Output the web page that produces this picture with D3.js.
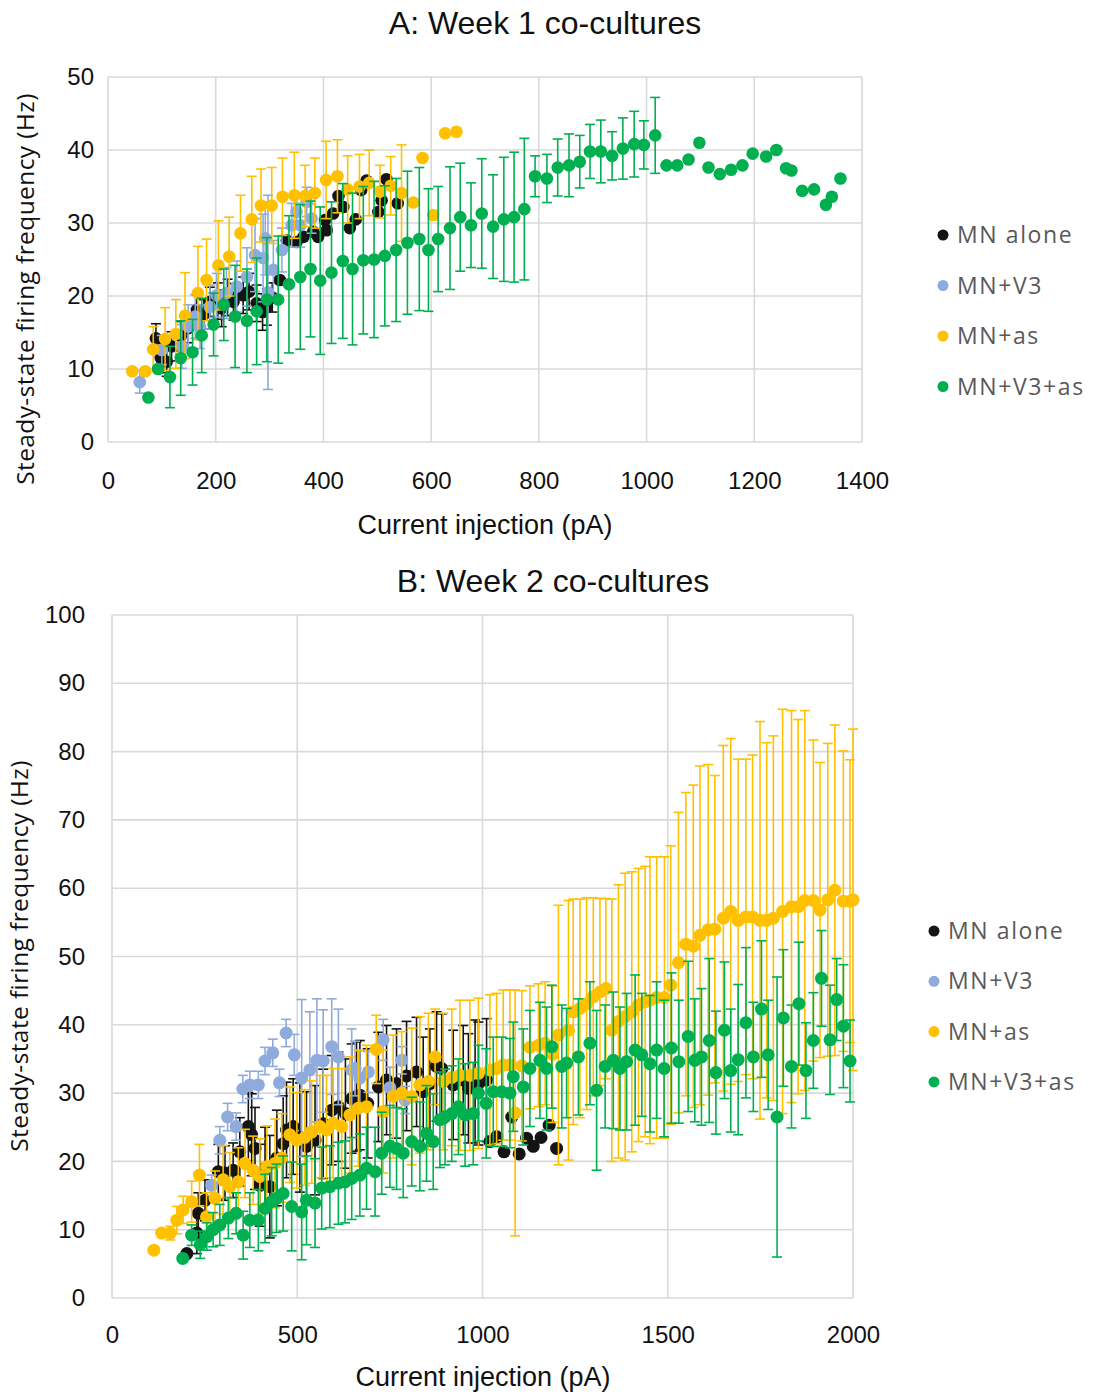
<!DOCTYPE html>
<html><head><meta charset="utf-8">
<script src="https://cdn.jsdelivr.net/npm/d3@7"></script>
<style>
body{margin:0;background:#fff;}
svg{display:block;}
</style></head>
<body>
<svg id="c" width="1099" height="1394"></svg>
<script>
// ---------- DATA (x pA, y Hz, error half-width) ----------
const seriesNames = ["MN alone","MN+V3","MN+as","MN+V3+as"];
const seriesColors = ["#141414","#8faadc","#ffc000","#00b050"];

const aXTicks = [0,200,400,600,800,1000,1200,1400];
const aYTicks = [0,10,20,30,40,50];
const bXTicks = [0,500,1000,1500,2000];
const bYTicks = [0,10,20,30,40,50,60,70,80,90,100];

const aBlack = [[89,14.2,2],[98,11.5,2],[109,11.0,2],[118,13.1,2],[135,14.5,2],[149,15.6,2],[165,18.1,2],[178,17.5,2],[189,19.2,2],[204,19.3,2.5],[211,18.3,2.5],[222,19.8,2.5],[233,19.2,2.5],[251,20.1,2.5],[262,20.6,2.5],[276,19.0,2.5],[287,17.8,2.5],[295,18.5,2.5],[305,19.8,2],[319,22.2,0],[332,27.6,0],[350,27.4,0],[363,28.1,0],[381,28.8,0],[390,28.1,0],[403,30.4,0],[406,29.0,0],[418,31.3,0],[428,33.7,0],[437,32.2,0],[449,29.3,0],[460,30.5,0],[470,34.5,0],[480,35.8,0],[502,31.5,0],[508,33.1,0],[517,36.0,0],[538,32.7,0]];
const aBlue = [[59,8.2,1.5],[100,12.6,2],[137,13.1,3],[149,15.8,3],[162,17.2,3],[171,15.8,3],[189,18.5,3],[202,20.1,3],[220,20.4,3.5],[239,21.3,3.5],[258,22.6,4],[273,25.6,5],[288,25.2,6],[292,27.9,5],[297,20.5,13.3],[307,23.6,4],[323,26.3,3],[341,29.7,3],[350,31.5,2],[357,29.7,3],[369,32.9,2],[378,30.6,2]];
const aYellow = [[45,9.7,0],[69,9.7,0],[84,12.7,3.1],[106,14.1,4.3],[126,14.8,4.7],[143,17.3,5.9],[167,20.4,6.4],[183,22.2,5.6],[205,24.2,6.1],[225,25.4,5.4],[246,28.6,5.2],[267,30.5,5.9],[284,32.4,5.0],[304,32.4,5.2],[324,33.6,5.3],[346,33.8,5.9],[366,33.7,4.2],[384,34.1,4.8],[405,35.9,5.3],[426,36.4,5.0],[445,34.6,4.6],[467,35.0,4.4],[485,35.5,4.5],[505,34.3,3.6],[525,35.1,4],[545,34.1,6.6],[567,32.8,0],[584,38.9,0],[604,31.1,0],[626,42.3,0],[647,42.5,0]];
const aGreen = [[75,6.1,0],[93,10.0,0],[115,8.9,4.2],[135,11.5,5.1],[157,12.3,4.5],[174,14.6,5.1],[196,16.1,4.3],[215,18.8,4.9],[236,17.2,7.0],[258,16.6,7.1],[276,17.9,7.3],[295,19.5,8.5],[316,19.5,8.7],[336,21.6,9.4],[357,22.6,9.9],[376,23.7,9.3],[394,22.1,10.1],[415,23.2,9.7],[436,24.8,10.6],[454,23.7,10.4],[474,24.9,10.1],[494,25.0,10.7],[514,25.5,9.6],[535,26.3,9.8],[556,27.3,9.8],[578,27.8,9.8],[595,26.3,8.4],[613,27.8,7.2],[635,29.3,8.4],[654,30.8,7.4],[674,29.7,5.8],[694,31.3,7.5],[715,29.5,7.1],[735,30.5,8.5],[754,30.8,8.9],[773,31.9,9.7],[793,36.4,2.8],[815,36.1,3.3],[835,37.6,3.9],[856,37.9,4.3],[876,38.4,3.6],[895,39.8,3.7],[915,39.8,4.3],[936,39.2,3.3],[956,40.2,4.2],[977,40.8,4.5],[995,40.7,3.3],[1016,42.0,5.2],[1037,37.9,0],[1057,37.9,0],[1078,38.7,0],[1098,41.0,0],[1115,37.6,0],[1136,36.7,0],[1157,37.3,0],[1178,37.9,0],[1197,39.5,0],[1222,39.1,0],[1241,40.0,0],[1259,37.5,0],[1269,37.2,0],[1289,34.4,0],[1311,34.6,0],[1333,32.5,0],[1344,33.6,0],[1360,36.1,0]];

const bBlack = [[202,6.5,0],[229,9.5,3],[233,12.4,3],[251,14.3,3],[287,18.5,4],[305,18.3,4],[327,18.7,4],[345,21.4,5],[368,25.1,5],[377,23.9,6],[386,21.9,6],[399,16.5,6],[413,19.0,6],[426,16.3,7.5],[445,20.5,7],[462,22.6,7],[471,24.6,7],[489,25.1,7],[507,23.5,8],[525,22.2,8],[548,23.1,8],[570,25.5,8],[593,27.5,8],[611,28.0,8],[630,27.0,8],[647,29.2,8],[660,29.5,8],[669,29.7,8],[690,28.5,8],[719,30.9,8],[741,31.9,8],[768,31.4,8],[795,32.5,8],[822,33.1,8],[840,30.2,8],[858,31.4,8],[876,33.9,8],[890,33.6,8],[921,31.2,8],[948,31.9,8],[962,30.7,8],[980,31.7,9],[989,31.4,9],[1011,31.9,9],[1020,22.9,0],[1038,23.6,0],[1058,21.4,0],[1079,26.5,0],[1099,21.1,0],[1119,23.4,0],[1137,22.2,0],[1158,23.5,0],[1180,25.3,0],[1200,21.9,0]];
const bBlue = [[269,16.5,1.5],[291,23.1,2],[312,26.5,2],[335,25.1,2],[353,30.6,2],[372,31.2,2],[395,31.2,2],[413,34.7,2],[434,35.9,2],[452,31.5,2],[470,38.8,2],[492,35.6,3],[512,32.2,11.5],[534,33.4,8.5],[553,34.8,9],[570,34.7,7.5],[593,36.8,7],[611,35.3,7],[647,33.4,6],[656,33.6,4],[669,32.2,4],[692,33.1,3],[732,37.8,3],[750,30.8,3],[782,34.8,2],[791,29.0,2]];
const bYellow = [[113,7.0,0],[134,9.5,0],[157,9.5,1],[175,11.4,2],[192,12.9,2],[215,14.1,3],[236,18.0,4.5],[255,11.9,3.5],[278,14.6,4],[300,17.3,5],[318,16.3,5],[341,17.0,5],[359,19.7,5],[381,18.7,5],[399,17.8,5.5],[418,19.2,6],[440,19.7,6.5],[458,20.5,6.5],[480,23.9,7],[499,23.1,7],[520,23.5,7],[539,24.3,7.5],[561,25.1,7.5],[579,24.6,8],[597,25.6,8],[620,25.1,8.5],[642,26.8,8.5],[665,27.8,8.5],[687,28.0,9],[713,36.4,5],[732,27.3,9],[759,29.5,9],[782,30.0,9],[809,29.5,10],[831,31.2,10],[854,31.7,10],[872,35.3,7],[894,31.7,10],[917,32.3,10],[939,32.6,11],[966,32.6,11],[989,32.9,11],[1020,33.4,11],[1038,33.6,11],[1056,34.1,11],[1074,34.1,11],[1088,27.1,18],[1106,34.0,11],[1128,36.7,9],[1151,37.0,9],[1169,37.3,9],[1189,35.7,10],[1205,38.5,19],[1232,39.2,19],[1245,41.9,16.5],[1263,42.4,16],[1281,43.1,15.5],[1299,44.1,14.5],[1317,44.8,13.7],[1333,45.3,13.2],[1349,39.2,19.2],[1367,40.5,20],[1385,41.2,21],[1403,41.9,20.5],[1421,42.9,20],[1439,43.4,19.8],[1452,43.6,21],[1470,44.0,20.6],[1491,44.0,20.6],[1508,45.8,20.4],[1529,49.1,22],[1549,51.8,22.2],[1569,51.5,23.6],[1587,53.1,24.8],[1609,53.9,24.2],[1627,54.0,22.5],[1650,55.6,25.3],[1670,56.6,25.3],[1690,55.3,23.6],[1711,55.8,23.1],[1729,55.8,23.7],[1749,55.3,29.1],[1767,55.3,26],[1785,55.6,26.7],[1810,56.6,29.6],[1834,57.3,28.7],[1852,57.3,27.4],[1870,58.2,27.8],[1893,58.2,23.5],[1911,56.8,21.6],[1932,58.3,22.9],[1951,59.7,24.2],[1974,58.1,22],[1992,58.1,20.7],[2000,58.3,25]];
const bGreen = [[191,5.8,0],[215,9.2,1.5],[238,7.8,2],[256,9.0,2],[273,10.0,2.5],[291,10.7,3],[314,11.7,3],[335,12.4,3],[354,9.2,3.5],[372,11.4,4],[395,11.4,4.5],[413,13.1,5],[431,14.1,5],[444,14.6,5],[462,15.3,5.5],[485,13.4,6.5],[512,12.6,7],[525,14.3,6.5],[548,13.9,6.5],[566,16.1,6],[588,16.3,6],[611,16.8,6],[629,17.0,6],[647,17.5,6],[669,18.0,6],[687,19.0,6],[710,18.5,6.5],[728,21.2,6],[750,22.2,6],[768,21.9,6],[786,21.2,6.5],[809,22.9,6.5],[831,22.2,6.5],[849,24.1,7],[867,22.9,7],[885,26.1,7],[899,26.5,7],[917,27.0,7],[935,28.0,7],[953,26.8,7.5],[975,27.0,7.5],[989,30.0,7],[1010,28.5,8],[1029,30.2,8],[1052,30.2,8],[1074,30.0,8],[1083,32.4,8],[1110,30.9,8.5],[1128,33.6,8.5],[1155,34.8,8.5],[1173,33.6,9],[1187,36.8,9],[1214,33.9,9],[1227,34.4,8],[1259,35.3,8.5],[1290,37.3,9],[1308,30.4,11.7],[1331,33.9,9],[1353,34.8,10],[1371,33.6,9],[1389,34.6,10],[1412,36.3,11],[1430,35.6,9],[1452,34.3,10],[1470,36.3,10],[1490,33.6,10],[1510,36.6,11],[1530,34.6,9],[1555,38.3,11],[1573,34.8,9],[1591,35.3,10],[1612,37.7,12],[1630,33.0,9],[1653,39.2,10],[1670,33.3,9],[1690,34.9,11],[1711,40.3,11],[1731,35.3,8],[1753,42.3,10],[1771,35.6,8],[1795,26.5,20.5],[1812,41.0,10],[1834,33.9,9],[1854,43.1,9],[1873,33.3,7],[1893,37.7,7],[1915,46.8,7],[1938,37.8,8],[1956,43.7,6],[1974,39.8,9],[1992,34.7,6]];

// ---------- DRAWING ----------
const svg = d3.select("#c");
const tickFont = "'Liberation Sans', Arial, sans-serif";
const labFont = "'Open Sans', 'Noto Sans', sans-serif";
const grid = "#d9d9d9";

function drawChart(cfg){
  const g = svg.append("g");
  const x = d3.scaleLinear().domain(cfg.xDomain).range([cfg.left, cfg.right]);
  const y = d3.scaleLinear().domain(cfg.yDomain).range([cfg.bottom, cfg.top]);

  // gridlines
  g.append("g").selectAll("line").data(cfg.xTicks).join("line")
    .attr("x1", d=>x(d)).attr("x2", d=>x(d)).attr("y1", cfg.top).attr("y2", cfg.bottom)
    .attr("stroke", grid).attr("stroke-width", 1.6);
  g.append("g").selectAll("line").data(cfg.yTicks).join("line")
    .attr("y1", d=>y(d)).attr("y2", d=>y(d)).attr("x1", cfg.left).attr("x2", cfg.right)
    .attr("stroke", grid).attr("stroke-width", 1.6);

  // axes (labels only)
  const fmt = d3.format("d");
  const xa = g.append("g").attr("transform", `translate(0,${cfg.bottom})`)
    .call(d3.axisBottom(x).tickValues(cfg.xTicks).tickFormat(fmt).tickSize(0).tickPadding(cfg.xPad));
  const ya = g.append("g").attr("transform", `translate(${cfg.left},0)`)
    .call(d3.axisLeft(y).tickValues(cfg.yTicks).tickFormat(fmt).tickSize(0).tickPadding(cfg.yPad));
  [xa, ya].forEach(a=>{
    a.select(".domain").remove();
    a.selectAll("text").attr("font-family", tickFont).attr("font-size", cfg.tickSize).attr("fill", "#111");
  });

  // series
  cfg.series.forEach((data, i)=>{
    const col = seriesColors[i];
    const sg = g.append("g");
    const eb = data.filter(d=>d[2] > 0);
    sg.selectAll("line.eb").data(eb).join("line").attr("class","eb")
      .attr("x1", d=>x(d[0])).attr("x2", d=>x(d[0]))
      .attr("y1", d=>y(d[1]-d[2])).attr("y2", d=>y(d[1]+d[2]))
      .attr("stroke", col).attr("stroke-width", 1.6);
    [-1, 1].forEach(s=>{
      sg.selectAll("line.cap"+(s>0?"p":"m")).data(eb).join("line").attr("class","cap"+(s>0?"p":"m"))
        .attr("x1", d=>x(d[0])-cfg.cap).attr("x2", d=>x(d[0])+cfg.cap)
        .attr("y1", d=>y(d[1]+s*d[2])).attr("y2", d=>y(d[1]+s*d[2]))
        .attr("stroke", col).attr("stroke-width", 1.6);
    });
    sg.selectAll("circle").data(data).join("circle")
      .attr("cx", d=>x(d[0])).attr("cy", d=>y(d[1])).attr("r", cfg.r)
      .attr("fill", col);
  });

  // title
  svg.append("text").attr("x", cfg.titleX).attr("y", cfg.titleY).attr("text-anchor", "middle")
    .attr("font-family", tickFont).attr("font-size", 32).attr("fill", "#111").text(cfg.title);
  // x label
  svg.append("text").attr("x", cfg.xLabX).attr("y", cfg.xLabY).attr("text-anchor", "middle")
    .attr("font-family", tickFont).attr("font-size", 27).attr("fill", "#111").text("Current injection (pA)");
  // y label
  svg.append("text").attr("transform", `translate(${cfg.yLabX},${cfg.yLabY}) rotate(-90)`)
    .attr("text-anchor", "middle").attr("font-family", labFont).attr("font-size", 24.5)
    .attr("letter-spacing", 0.4)
    .attr("fill", "#111").text("Steady-state firing frequency (Hz)");

  // legend
  const lg = svg.append("g");
  seriesNames.forEach((n, i)=>{
    const yy = cfg.legY + i*cfg.legStep;
    lg.append("circle").attr("cx", cfg.legX).attr("cy", yy).attr("r", 5.5).attr("fill", seriesColors[i]);
    lg.append("text").attr("x", cfg.legX + 14).attr("y", yy).attr("dy", "0.35em")
      .attr("font-family", labFont).attr("font-size", 23).attr("letter-spacing", 1.6)
      .attr("fill", "#595959").text(n);
  });
}

drawChart({
  xDomain:[0,1400], yDomain:[0,50], left:108, right:862, top:77, bottom:442,
  xTicks:aXTicks, yTicks:aYTicks, xPad:30, yPad:14, tickSize:24, r:6.3, cap:5,
  series:[aBlack, aBlue, aYellow, aGreen],
  title:"A: Week 1 co-cultures", titleX:545, titleY:34,
  xLabX:485, xLabY:534, yLabX:34, yLabY:289,
  legX:943, legY:235, legStep:50.5
});
drawChart({
  xDomain:[0,2000], yDomain:[0,100], left:112, right:853, top:615, bottom:1298,
  xTicks:bXTicks, yTicks:bYTicks, xPad:28, yPad:27, tickSize:24, r:6.5, cap:5,
  series:[bBlack, bBlue, bYellow, bGreen],
  title:"B: Week 2 co-cultures", titleX:553, titleY:592,
  xLabX:483, xLabY:1386, yLabX:28, yLabY:956,
  legX:934, legY:931, legStep:50.3
});
</script>
</body></html>
